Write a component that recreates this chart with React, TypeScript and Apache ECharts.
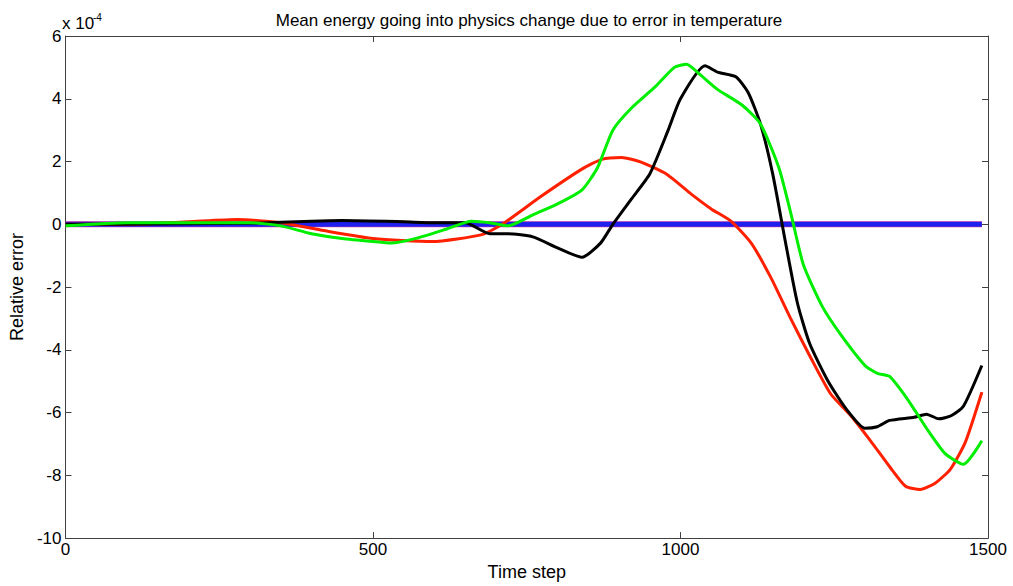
import React, { useEffect, useRef } from "react";
import * as echarts from "echarts";

const xTicks = [0, 500, 1000, 1500];
const yTicks = [-10, -8, -6, -4, -2, 0, 2, 4, 6];

const redT = [0, 100, 200, 280, 350, 420, 500, 596, 677, 710, 774, 839, 872, 904, 936, 977, 1017, 1050, 1082, 1115, 1147, 1179, 1212, 1244, 1277, 1309, 1341, 1366, 1390, 1414, 1439, 1463, 1490];
const redV = [0, 0, 0.08, 0.15, 0.05, -0.2, -0.45, -0.55, -0.33, 0, 0.9, 1.75, 2.07, 2.13, 1.98, 1.6, 0.97, 0.49, 0.1, -0.6, -1.7, -3.0, -4.26, -5.4, -6.1, -6.9, -7.75, -8.35, -8.45, -8.25, -7.8, -6.95, -5.35];

const blackT = [0, 100, 200, 300, 400, 450, 550, 600, 650, 690, 720, 760, 800, 840, 870, 890, 920, 950, 980, 1000, 1040, 1060, 1090, 1110, 1130, 1150, 1170, 1190, 1210, 1240, 1270, 1300, 1320, 1340, 1380, 1400, 1420, 1440, 1460, 1490];
const blackV = [0, 0, 0.02, 0.03, 0.1, 0.12, 0.08, 0.05, 0.05, -0.3, -0.3, -0.4, -0.75, -1.05, -0.6, 0, 0.8, 1.6, 3.0, 4.0, 5.05, 4.85, 4.7, 4.2, 3.2, 1.6, -0.5, -2.5, -3.8, -5.0, -5.9, -6.5, -6.45, -6.25, -6.15, -6.05, -6.2, -6.1, -5.8, -4.5];

const greenT = [0, 100, 200, 300, 350, 400, 450, 500, 530, 570, 620, 660, 690, 720, 760, 800, 840, 865, 890, 920, 960, 990, 1010, 1030, 1060, 1100, 1130, 1160, 1180, 1200, 1230, 1260, 1300, 1320, 1340, 1370, 1400, 1430, 1460, 1490];
const greenV = [-0.05, 0.05, 0.05, 0.05, -0.05, -0.3, -0.45, -0.55, -0.6, -0.45, -0.15, 0.1, 0.05, -0.05, 0.3, 0.65, 1.1, 1.8, 3.0, 3.7, 4.4, 5.0, 5.1, 4.8, 4.3, 3.8, 3.2, 1.8, 0.3, -1.3, -2.6, -3.5, -4.5, -4.75, -4.85, -5.6, -6.5, -7.3, -7.65, -6.9];

const blueT = [0, 1490];
const blueV = [0, 0];

const zip = (t: number[], v: number[]) => t.map((x, i) => [x, v[i]]);

export default function App() {
  const ref = useRef<HTMLDivElement>(null);
  useEffect(() => {
    const chart = echarts.init(ref.current!, null, { renderer: "svg" });
    const font = "Liberation Sans, Arial, sans-serif";
    const axisColor = "#404040";
    const lineSeries = (name: string, t: number[], v: number[], color: string, width: number, z = 2) => ({
      name,
      type: "line",
      data: zip(t, v),
      smooth: 0.2,
      showSymbol: false,
      symbol: "none",
      lineStyle: { color, width },
      z,
      xAxisIndex: 0,
      yAxisIndex: 0,
    });
    const baseAxis = {
      axisLine: { show: true, onZero: false, lineStyle: { color: axisColor, width: 1 } },
      axisTick: { show: true, inside: true, length: 6, lineStyle: { color: axisColor } },
      splitLine: { show: false },
    };
    chart.setOption({
      animation: false,
      backgroundColor: "#ffffff",
      title: {
        text: "Mean energy going into physics change due to error in temperature",
        left: 524,
        textAlign: "center",
        top: 7,
        textStyle: { fontFamily: font, fontSize: 17, fontWeight: "normal", color: "#000" },
      },
      grid: { left: 62, right: 25, top: 36, bottom: 46 },
      xAxis: [
        {
          ...baseAxis,
          type: "value",
          min: xTicks[0],
          max: xTicks[xTicks.length - 1],
          interval: 500,
          name: "Time step",
          nameLocation: "middle",
          nameGap: 24,
          nameTextStyle: { fontFamily: font, fontSize: 18, color: "#000" },
          axisLabel: { fontFamily: font, fontSize: 17, color: "#000", margin: 3, formatter: (v: number) => String(v) },
        },
        {
          ...baseAxis,
          type: "value",
          position: "top",
          min: xTicks[0],
          max: xTicks[xTicks.length - 1],
          interval: 500,
          axisLabel: { show: false },
        },
      ],
      yAxis: [
        {
          ...baseAxis,
          type: "value",
          min: yTicks[0],
          max: yTicks[yTicks.length - 1],
          interval: 2,
          name: "Relative error",
          nameLocation: "middle",
          nameGap: 35,
          nameRotate: 90,
          nameTextStyle: { fontFamily: font, fontSize: 18, color: "#000" },
          axisLabel: { fontFamily: font, fontSize: 17, color: "#000", margin: 4 },
        },
        {
          ...baseAxis,
          type: "value",
          position: "right",
          min: yTicks[0],
          max: yTicks[yTicks.length - 1],
          interval: 2,
          axisLabel: { show: false },
        },
      ],
      graphic: [
        {
          type: "text",
          left: 62,
          top: 15,
          style: { text: "x 10", fontFamily: font, fontSize: 17, fill: "#000" },
        },
        {
          type: "text",
          left: 93,
          top: 12,
          style: { text: "-4", fontFamily: font, fontSize: 10, fill: "#000" },
        },
      ],
      series: [
        lineSeries("Magenta", blueT, blueV, "#e0409a", 6, 1),
        lineSeries("Blue", blueT, blueV, "#2020ee", 5, 2),
        lineSeries("Red", redT, redV, "#ff2000", 3, 3),
        lineSeries("Black", blackT, blackV, "#000000", 3, 4),
        lineSeries("Green", greenT, greenV, "#00ee00", 3, 5),
      ],
    });
    return () => chart.dispose();
  }, []);
  return (
    <div
      ref={ref}
      style={{ position: "fixed", left: 0, top: 0, width: 1013, height: 586 }}
    />
  );
}
